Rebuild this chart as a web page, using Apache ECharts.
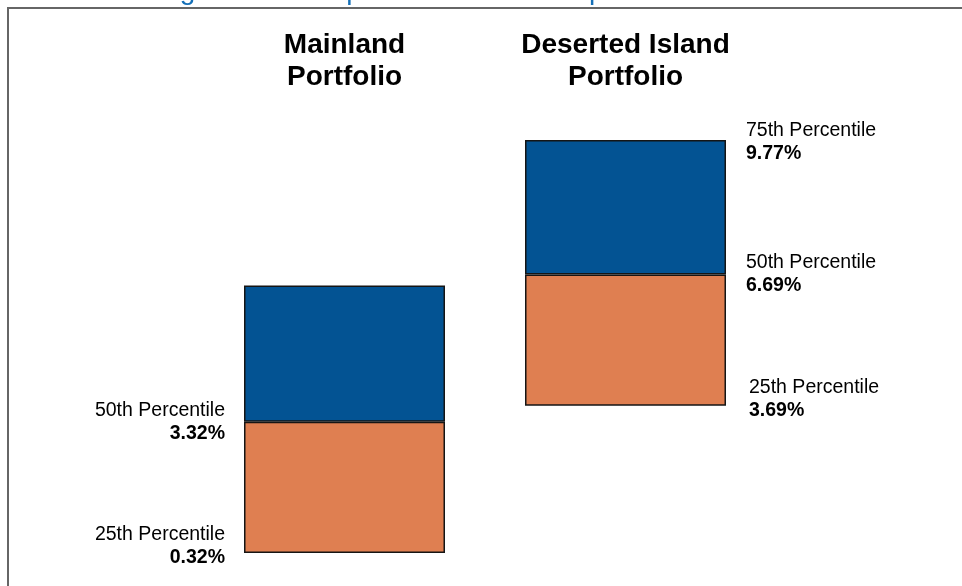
<!DOCTYPE html>
<html>
<head>
<meta charset="utf-8">
<script src="https://cdn.jsdelivr.net/npm/echarts@6/dist/echarts.min.js"></script>
<style>
html,body{margin:0;padding:0;background:#fff;}
#c{width:962px;height:586px;}
</style>
</head>
<body>
<div id="c"></div>
<script>
// ---- data ----
const categories = ['Mainland\nPortfolio', 'Deserted Island\nPortfolio'];
const p25 = [0.32, 3.69];
const p50 = [3.32, 6.69];
const p75 = [6.44, 9.77];
const percentileNames = ['25th Percentile', '50th Percentile', '75th Percentile'];
const labeled = [[true, true, false], [true, true, true]];
const titleText = 'Average Annual Expected Return Comparison';

// ---- build ----
const FONT = '"Liberation Sans", Arial, sans-serif';
const base = p25.slice();
const lower = p50.map((v, i) => +(v - p25[i]).toFixed(2));
const upper = p75.map((v, i) => +(v - p50[i]).toFixed(2));

const pts = [];
categories.forEach((c, i) => {
  const vals = [p25[i], p50[i], p75[i]];
  vals.forEach((v, j) => {
    if (!labeled[i][j]) return;
    const left = i === 0;
    pts.push({
      value: [i, v],
      name: percentileNames[j],
      label: {
        position: left ? 'left' : 'right',
        distance: left ? 119 : (j === 0 ? 123 : 120),
        offset: [0, j === 0 ? -7 : (j === 2 ? 2 : 0)],
        formatter: '{a|' + percentileNames[j] + '}\n{b|' + v.toFixed(2) + '%}',
        align: left ? 'right' : 'left'
      }
    });
  });
});

const chart = echarts.init(document.getElementById('c'), null, {renderer: 'canvas'});
chart.setOption({
  animation: false,
  backgroundColor: '#ffffff',
  grid: {left: 204, right: 196, top: 101, bottom: 19},
  xAxis: {
    type: 'category',
    data: categories,
    position: 'top',
    axisLine: {show: false},
    axisTick: {show: false},
    axisLabel: {
      margin: 8,
      color: '#000',
      fontFamily: FONT,
      fontWeight: 'bold',
      fontSize: 28,
      lineHeight: 32
    }
  },
  yAxis: {type: 'value', min: 0, max: 10.66, show: false},
  graphic: [
    {type: 'rect', shape: {x: 8, y: 8, width: 1400, height: 900},
     style: {fill: 'none', stroke: '#666666', lineWidth: 2}, z: 100},
    {type: 'text', left: 107, top: -23,
     style: {text: titleText, fill: '#1570B8', font: '28px ' + FONT}}
  ],
  series: [
    {type: 'bar', stack: 'r', data: base, barWidth: 201, silent: true,
     itemStyle: {color: 'rgba(0,0,0,0)', borderWidth: 0}},
    {type: 'bar', stack: 'r', data: lower, barWidth: 201,
     itemStyle: {color: '#DF7F51', borderColor: '#151515', borderWidth: 1.5}},
    {type: 'bar', stack: 'r', data: upper, barWidth: 201,
     itemStyle: {color: '#035393', borderColor: '#151515', borderWidth: 1.5}},
    {type: 'scatter', data: pts, symbolSize: 1, z: 5,
     itemStyle: {color: 'rgba(0,0,0,0)', opacity: 1},
     emphasis: {disabled: true},
     label: {
       show: true,
       opacity: 1,
       color: '#000',
       fontFamily: FONT,
       rich: {
         a: {fontSize: 19.5, fontFamily: FONT, color: '#000', lineHeight: 23, opacity: 1},
         b: {fontSize: 19.5, fontFamily: FONT, fontWeight: 'bold', color: '#000', lineHeight: 23, opacity: 1}
       }
     }}
  ]
});
</script>
</body>
</html>
